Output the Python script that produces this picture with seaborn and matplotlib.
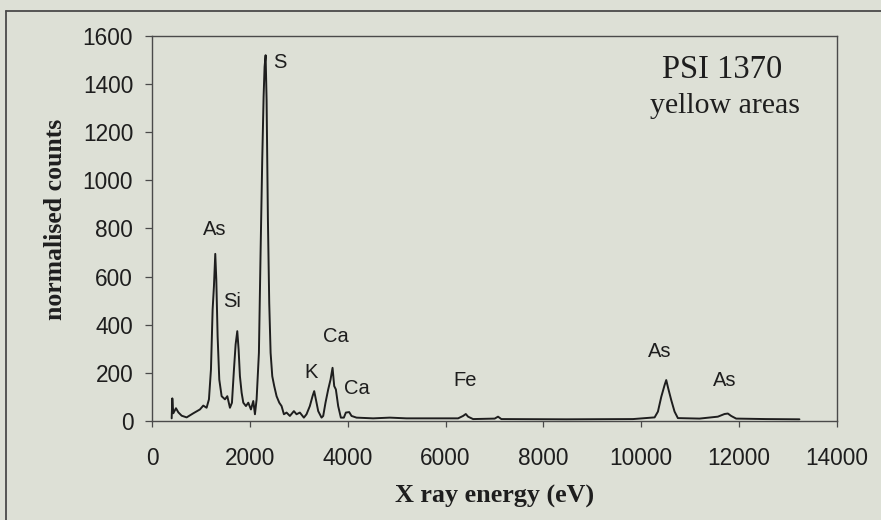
import matplotlib
matplotlib.use("Agg")
import matplotlib.pyplot as plt
from matplotlib.lines import Line2D
import seaborn as sns
import pandas as pd

# EDX spectrum, yellow areas of PSI 1370
energy_ev = [402, 415, 435, 490, 538, 606, 708, 844, 980, 1048, 1116, 1164, 1205,
             1239, 1266, 1293, 1314, 1341, 1375, 1423, 1491, 1539, 1593, 1634,
             1675, 1709, 1743, 1770, 1797, 1832, 1866, 1920, 1968, 2022, 2070,
             2104, 2138, 2185, 2219, 2253, 2281, 2301, 2322, 2342, 2369, 2396,
             2424, 2458, 2498, 2546, 2601, 2648, 2696, 2750, 2818, 2900, 2954,
             3022, 3104, 3158, 3226, 3281, 3315, 3349, 3397, 3465, 3499, 3546,
             3601, 3649, 3690, 3724, 3758, 3805, 3860, 3921, 3962, 4030, 4078,
             4180, 4520, 4860, 5200, 5882, 6256, 6358, 6413, 6460, 6562, 7004,
             7072, 7140, 8468, 9830, 10272, 10340, 10408, 10476, 10510, 10551,
             10612, 10680, 10748, 11190, 11565, 11701, 11769, 11837, 11939,
             12551, 13232]
counts = [11, 94, 32, 53, 36, 22, 15, 32, 48, 64, 55, 90, 214,
          463, 560, 694, 588, 352, 172, 103, 90, 103, 55, 76,
          214, 318, 373, 297, 186, 117, 76, 62, 76, 48, 83,
          28, 90, 283, 698, 1085, 1347, 1471, 1519, 1333, 836, 490,
          283, 186, 145, 103, 76, 62, 28, 35, 21, 41, 28,
          35, 14, 28, 62, 103, 124, 90, 41, 14, 21, 76,
          131, 172, 221, 145, 131, 62, 14, 14, 35, 37, 21,
          14, 11, 14, 11, 11, 11, 21, 29, 18, 8, 10,
          18, 8, 7, 8, 15, 39, 100, 149, 170, 135,
          87, 39, 12, 10, 18, 29, 31, 21, 10,
          8, 7]

# element labels: text, x (eV), y (counts)
peak_names = ["As", "Si", "S", "K", "Ca", "Ca", "Fe", "As", "As"]
peak_x = [1281, 1644, 2614, 3241, 3748, 4187, 6407, 10376, 11710]
peak_y = [797, 495, 1487, 202, 350, 136, 170, 288, 170]

x_ticks = [0, 2000, 4000, 6000, 8000, 10000, 12000, 14000]
y_ticks = [0, 200, 400, 600, 800, 1000, 1200, 1400, 1600]

sample_title = "PSI 1370"
sample_subtitle = "yellow areas"

bg = "#dde0d6"
ink = "#1e1e1e"
frame = "#4a4a4a"

sns.set_theme(style="ticks")
plt.rcParams["font.family"] = ["Liberation Sans", "DejaVu Sans"]

fig = plt.figure(figsize=(8.81, 5.20), dpi=100, facecolor=bg)
ax = fig.add_axes([152 / 881, 1 - 421 / 520, 685 / 881, 385.3 / 520])
ax.set_facecolor(bg)

df = pd.DataFrame({"energy": energy_ev, "counts": counts})
sns.lineplot(data=df, x="energy", y="counts", ax=ax, color=ink,
             linewidth=1.4, estimator=None, sort=False)

ax.set_xlim(0, 14000)
ax.set_ylim(0, 1600)
ax.set_xticks(x_ticks)
ax.set_yticks(y_ticks)
ax.set_xticklabels([str(v) for v in x_ticks])
ax.set_yticklabels([str(v) for v in y_ticks])

for side in ["left", "right", "top", "bottom"]:
    ax.spines[side].set_visible(True)
    ax.spines[side].set_color(frame)
    ax.spines[side].set_linewidth(1.0)

ax.tick_params(axis="y", direction="out", length=5, width=0.9, color=frame,
               pad=8.5, labelsize=16.3, labelcolor=ink)
ax.tick_params(axis="x", direction="out", length=4, width=0.9, color=frame,
               pad=15, labelsize=16.3, labelcolor=ink)

ax.set_xlabel("X ray energy (eV)", fontsize=18.8, fontweight="bold",
              family="Liberation Serif", color=ink)
ax.set_ylabel("normalised counts", fontsize=18.5, fontweight="bold",
              family="Liberation Serif", color=ink)
ax.xaxis.set_label_coords(0.5, -0.166)
ax.xaxis.label.set_va("top")
ax.yaxis.set_label_coords(-0.141, 0.522)
ax.yaxis.label.set_va("center")

for name, px, py in zip(peak_names, peak_x, peak_y):
    ax.text(px, py, name, ha="center", va="center", fontsize=14.5,
            color=ink, family="Liberation Sans")

ax.text(11642, 1426, sample_title, ha="center", va="baseline",
        fontsize=23.5, color=ink, family="Liberation Serif")
ax.text(11720, 1277, sample_subtitle, ha="center", va="baseline",
        fontsize=21.5, color=ink, family="Liberation Serif")

# outer border of the figure panel (left and top edges)
fig.add_artist(Line2D([5.5 / 881, 5.5 / 881], [0, 1 - 11 / 520],
                      transform=fig.transFigure, color=frame, lw=1.3))
fig.add_artist(Line2D([5.5 / 881, 1.0], [1 - 11 / 520, 1 - 11 / 520],
                      transform=fig.transFigure, color=frame, lw=1.3))

fig.savefig("out.png", dpi=100, facecolor=bg)
